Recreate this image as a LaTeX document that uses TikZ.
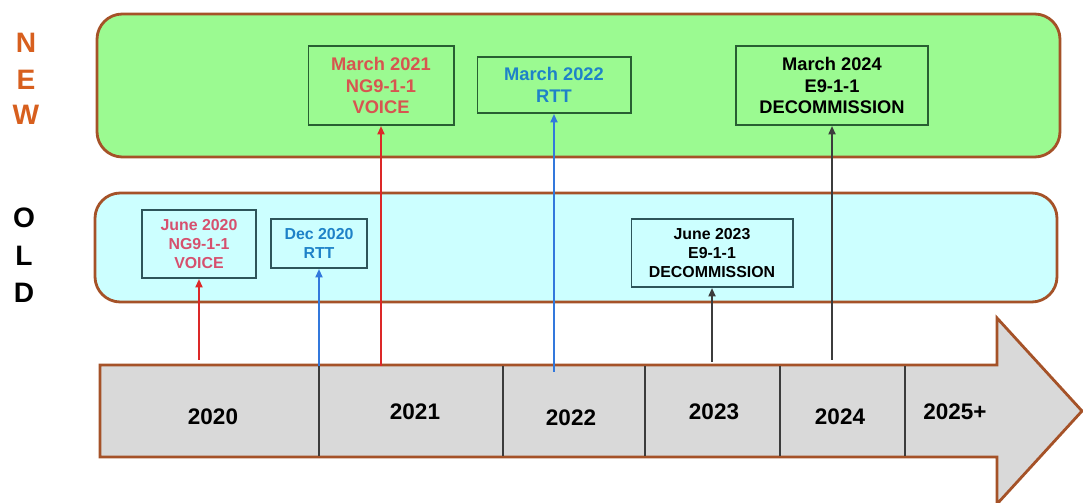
\documentclass[tikz,border=0pt]{standalone}
\usepackage{fontspec}
\setmainfont{Liberation Sans}
\usetikzlibrary{arrows.meta}

\definecolor{newgreen}{RGB}{155,250,145}
\definecolor{oldcyan}{RGB}{204,255,255}
\definecolor{panelbrown}{RGB}{165,82,40}
\definecolor{axisgray}{RGB}{217,217,217}
\definecolor{newframe}{RGB}{40,95,50}
\definecolor{oldframe}{RGB}{45,85,90}
\definecolor{voicered}{RGB}{215,85,80}
\definecolor{voicepink}{RGB}{214,80,110}
\definecolor{rttblue}{RGB}{30,130,200}
\definecolor{neworange}{RGB}{215,95,30}
\definecolor{linered}{RGB}{220,40,40}
\definecolor{lineblue}{RGB}{50,120,220}
\definecolor{lineblack}{RGB}{60,60,60}

\begin{document}
\begin{tikzpicture}[x=0.025cm,y=-0.025cm]
    \tikzstyle{panel}=[draw=panelbrown,line width=2pt,rounded corners=18pt]
    \tikzstyle{letter}=[font=\bfseries\fontsize{20}{24}\selectfont]
    \tikzstyle{upper}=[draw=newframe,line width=1.4pt,align=center,inner sep=0pt,font=\bfseries\fontsize{13}{15.6}\selectfont]
    \tikzstyle{lower}=[draw=oldframe,line width=1.4pt,align=center,inner sep=0pt,font=\bfseries\fontsize{11.3}{13.6}\selectfont]
    \tikzstyle{year}=[font=\bfseries\fontsize{16}{19}\selectfont]
    \tikzstyle{link}=[line width=1.3pt,-{Triangle[length=6pt,width=5pt]}]

    \useasboundingbox (0,0) rectangle (1083,503);

    % panels
    \draw[panel,fill=newgreen] (97,14) rectangle (1060,157);
    \draw[panel,fill=oldcyan] (95,193) rectangle (1057,302);

    % side letters
    \node[letter,text=neworange] at (26,43) (n1) {N};
    \node[letter,text=neworange] at (26,80) (n2) {E};
    \node[letter,text=neworange] at (26,115) (n3) {W};
    \node[letter] at (24,218) (o1) {O};
    \node[letter] at (24,256) (o2) {L};
    \node[letter] at (24,293) (o3) {D};

    % timeline arrow
    \draw[draw=panelbrown,line width=2pt,fill=axisgray,line join=miter]
        (100,365) -- (997,365) -- (997,318) -- (1082,411) -- (997,504)
        -- (997,457) -- (100,457) -- cycle;
    \foreach \x in {319,503,645,780,905}
        \draw[lineblack,line width=0.8pt] (\x,366) -- (\x,456);

    \node[year] at (213,417) (y20) {2020};
    \node[year] at (415,412) (y21) {2021};
    \node[year] at (571,418) (y22) {2022};
    \node[year] at (714,412) (y23) {2023};
    \node[year] at (840,417) (y24) {2024};
    \node[year] at (955,412) (y25) {2025+};

    % milestones
    \node[upper,text=voicered,minimum width=3.625cm,minimum height=1.975cm] at (381,85.5) (m21) {March 2021\\NG9-1-1\\VOICE};
    \node[upper,text=rttblue,minimum width=3.825cm,minimum height=1.4cm] at (554,85) (m22) {March 2022\\RTT};
    \node[upper,minimum width=4.8cm,minimum height=1.975cm] at (832,85.5) (m24) {March 2024\\E9-1-1\\DECOMMISSION};
    \node[lower,text=voicepink,minimum width=2.85cm,minimum height=1.7cm] at (199,244) (j20) {June 2020\\NG9-1-1\\VOICE};
    \node[lower,text=rttblue,minimum width=2.4cm,minimum height=1.225cm] at (319,243.5) (d20) {Dec 2020\\RTT};
    \node[lower,minimum width=4.025cm,minimum height=1.7cm] at (712,253) (j23) {June 2023\\E9-1-1\\DECOMMISSION};

    \coordinate (a20) at (199,360);
    \coordinate (b20) at (319,366);
    \coordinate (a21) at (381,366);
    \coordinate (b22) at (554,372);
    \coordinate (c23) at (712,362);
    \coordinate (c24) at (832,360);

    \draw[link,linered] (a20) -- (j20);
    \draw[link,lineblue] (b20) -- (d20);
    \draw[link,linered] (a21) -- (m21);
    \draw[link,lineblue] (b22) -- (m22);
    \draw[link,lineblack] (c23) -- (j23);
    \draw[link,lineblack] (c24) -- (m24);
\end{tikzpicture}
\end{document}
